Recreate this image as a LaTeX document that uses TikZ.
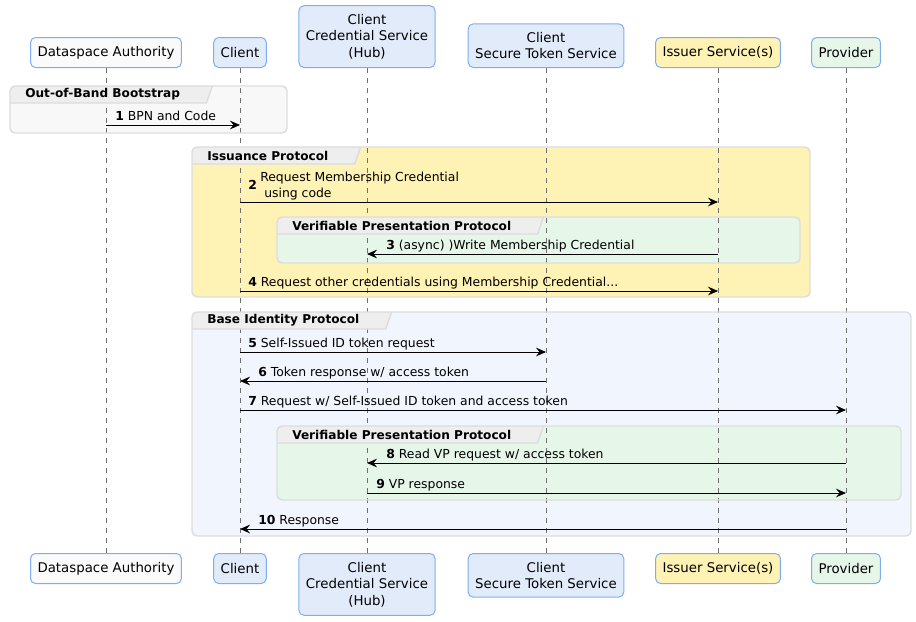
\documentclass[tikz,border=0pt]{standalone}
\usepackage{fontspec}
\setmainfont{DejaVu Sans}
\usetikzlibrary{arrows.meta,calc,positioning}

\definecolor{partline}{HTML}{7EAEF2}
\definecolor{dsagray}{HTML}{FAFAFA}
\definecolor{partblue}{HTML}{E2EBFA}
\definecolor{issyellow}{HTML}{FEF2B4}
\definecolor{provgreen}{HTML}{E6F7EA}
\definecolor{oobgray}{HTML}{F8F8F8}
\definecolor{basefill}{HTML}{F1F5FD}
\definecolor{grpline}{HTML}{DDDDDD}
\definecolor{tabgray}{HTML}{EEEEEE}
\definecolor{lifegray}{HTML}{707070}

\newcommand{\partfont}{\fontsize{10}{12.4}\selectfont}
\newcommand{\msgfont}{\fontsize{9.3}{12}\selectfont}
\newcommand{\grpfont}{\fontsize{9.1}{11}\selectfont\bfseries}

\pgfdeclarelayer{grp}
\pgfdeclarelayer{life}
\pgfdeclarelayer{tab}
\pgfsetlayers{grp,life,tab,main}

\tikzset{
  part/.style={draw=partline, line width=0.75pt, rounded corners=3.75pt, align=center,
    inner xsep=5.25pt, inner ysep=6.3pt, minimum height=22.5pt, font=\partfont},
  lifeline/.style={draw=lifegray, line width=0.75pt, dash pattern=on 3.75pt off 3.75pt},
  msg/.style={line width=0.75pt, -{Stealth[length=7.5pt,width=6.5pt,inset=2.6pt]}},
  msglbl/.style={inner sep=0pt, font=\msgfont},
  grpbox/.style={draw=grpline, line width=1.1pt, rounded corners=3.75pt},
  grptitle/.style={inner sep=0pt, font=\grpfont},
}

% group frame: name, x0, y0, x1, y1, fill, title
\newcommand{\sdgroup}[7]{%
  \begin{pgfonlayer}{grp}
    \fill[#6, rounded corners=3.75pt] (#2,#3) rectangle (#4,#5);
  \end{pgfonlayer}
  \node[grptitle, anchor=west] (#1) at (#2+15,#3+8.5) {#7};
  \begin{pgfonlayer}{tab}
    \begin{scope}
      \clip[rounded corners=3.75pt] (#2,#3) rectangle (#4,#5);
      \fill[tabgray] (#2,#3) -- ($(#1.east)+(32,-8.5)$) -- ($(#1.east)+(26,8.5)$) -- (#2,#3+17) -- cycle;
    \end{scope}
    \draw[grpline, line width=1.1pt] ($(#1.east)+(32,-8.5)$) -- ($(#1.east)+(26,8.5)$) -- (#2,#3+17);
    \draw[grpbox] (#2,#3) rectangle (#4,#5);
  \end{pgfonlayer}
}

% message: id, from, to, y, label side, shift, text
\newcommand{\sdmsg}[7]{%
  \coordinate (#1) at (0,#4);
  \draw[msg] (#2 |- #1) -- (#3 |- #1);
  \node[msglbl, anchor=base west] (#1l) at ($(#5 |- #1)+(#6,-5)$) {#7};
}

\begin{document}
\begin{tikzpicture}[x=0.75pt, y=-0.75pt]
  \useasboundingbox (0,0) rectangle (916,621);
  \begin{pgfonlayer}{grp}
    \fill[white] (0,0) rectangle (916,621);
  \end{pgfonlayer}

  % participants, top and bottom
  \foreach \nm/\xx/\fc/\txt in {dsa/106/dsagray/Dataspace Authority,
      client/240/partblue/Client,
      hub/367/partblue/{Client\\Credential Service\\(Hub)},
      sts/546/partblue/{Client\\Secure Token Service},
      issuer/718/issyellow/Issuer Service(s),
      provider/846/provgreen/Provider} {
    \node[part, fill=\fc, anchor=south] (\nm) at (\xx,68) {\txt};
    \node[part, fill=\fc, anchor=north] (\nm b) at (\xx,553) {\txt};
    \begin{pgfonlayer}{life}
      \draw[lifeline] (\nm) -- (\nm b);
    \end{pgfonlayer}
  }

  % groups
  \sdgroup{oob}{10}{86}{287}{133}{oobgray}{Out-of-Band Bootstrap}
  \sdgroup{iss}{192}{147}{810}{297}{issyellow}{Issuance Protocol}
  \sdgroup{vpa}{277}{217}{800}{263}{provgreen}{Verifiable Presentation Protocol}
  \sdgroup{base}{192}{312}{911}{536}{basefill}{Base Identity Protocol}
  \sdgroup{vpb}{277}{426}{901}{500}{provgreen}{Verifiable Presentation Protocol}

  % messages
  \sdmsg{m1}{dsa}{client}{125}{dsa}{9}{\textbf{1} BPN and Code}
  \coordinate (m2) at (0,202);
  \draw[msg] (client |- m2) -- (issuer |- m2);
  \node[msglbl, font=\msgfont\bfseries, anchor=base west] (m2n) at ($(client |- m2)+(8,-13)$) {2};
  \node[msglbl, align=left, anchor=south west] (m2l) at ($(client |- m2)+(20,-2)$)
    {Request Membership Credential\\\hspace*{3pt}using code};
  \sdmsg{m3}{issuer}{hub}{254}{hub}{19}{\textbf{3} (async) )Write Membership Credential}
  \sdmsg{m4}{client}{issuer}{291}{client}{8}{\textbf{4} Request other credentials using Membership Credential...}
  \sdmsg{m5}{client}{sts}{352}{client}{8}{\textbf{5} Self-Issued ID token request}
  \sdmsg{m6}{sts}{client}{381}{client}{18}{\textbf{6} Token response w/ access token}
  \sdmsg{m7}{client}{provider}{410}{client}{8}{\textbf{7} Request w/ Self-Issued ID token and access token}
  \sdmsg{m8}{provider}{hub}{463}{hub}{19}{\textbf{8} Read VP request w/ access token}
  \sdmsg{m9}{hub}{provider}{493}{hub}{9}{\textbf{9} VP response}
  \sdmsg{m10}{provider}{client}{529}{client}{18}{\textbf{10} Response}
\end{tikzpicture}
\end{document}
